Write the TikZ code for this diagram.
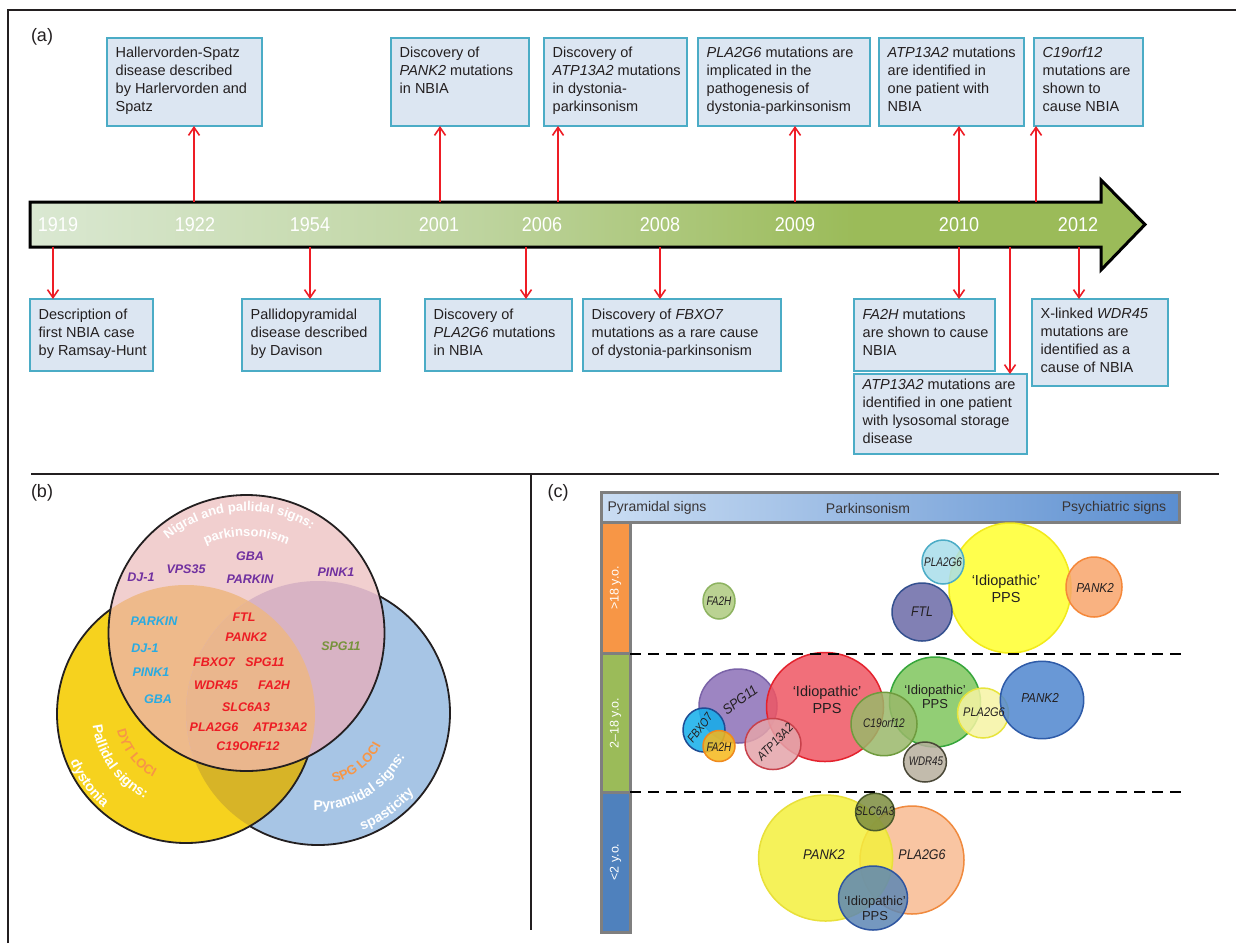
\documentclass[tikz,border=0pt]{standalone}
\usepackage{fontspec}
\setmainfont{Liberation Sans}
\usepackage{graphicx}
\usetikzlibrary{arrows.meta,decorations.text,calc}

\definecolor{boxfill}{HTML}{DCE6F2}
\definecolor{boxline}{HTML}{4BACC6}
\definecolor{arrred}{HTML}{EE1D25}
\definecolor{barA}{HTML}{DAE8D2}
\definecolor{barB}{HTML}{BED49F}
\definecolor{barC}{HTML}{9BBB59}
\definecolor{frm}{HTML}{231F20}
\definecolor{txt}{HTML}{231F20}
\pgfdeclarehorizontalshading{barsh}{100bp}{color(0bp)=(barA); color(25bp)=(barA); color(45bp)=(barB); color(62bp)=(barC); color(100bp)=(barC)}

\definecolor{vB}{HTML}{A7C5E5}
\definecolor{vY}{HTML}{F6D21E}
\definecolor{vYB}{HTML}{D7B427}
\definecolor{vP}{HTML}{F1CFCF}
\definecolor{vPY}{HTML}{EEBA8B}
\definecolor{vPB}{HTML}{D8B3C4}
\definecolor{vPYB}{HTML}{EAB68D}
\definecolor{gPur}{HTML}{7030A0}
\definecolor{gCya}{HTML}{29ABE2}
\definecolor{gRed}{HTML}{ED1C24}
\definecolor{gGrn}{HTML}{77933C}
\definecolor{gOra}{HTML}{F79646}

\definecolor{hdrA}{HTML}{CADDF3}
\definecolor{hdrB}{HTML}{5B8ED0}
\definecolor{grayb}{HTML}{7F7F7F}
\definecolor{ageO}{HTML}{F79646}
\definecolor{ageG}{HTML}{9BBB59}
\definecolor{ageB}{HTML}{4F81BD}

\definecolor{cFAa}{HTML}{AECB80}\definecolor{dFAa}{HTML}{8DB360}
\definecolor{cPLa}{HTML}{A9DDEA}\definecolor{dPLa}{HTML}{4BACC6}
\definecolor{cYel}{HTML}{FFFF2E}\definecolor{dYel}{HTML}{F2EA1A}
\definecolor{cFTL}{HTML}{6C6AA8}\definecolor{dFTL}{HTML}{34508F}
\definecolor{cPKo}{HTML}{F8A56B}\definecolor{dPKo}{HTML}{F5883A}
\definecolor{cSPG}{HTML}{8D70B8}\definecolor{dSPG}{HTML}{7A63A8}
\definecolor{cFBX}{HTML}{12AEEA}\definecolor{dFBX}{HTML}{1E4C94}
\definecolor{cFAb}{HTML}{F6B81A}\definecolor{dFAb}{HTML}{EF8A1E}
\definecolor{cATP}{HTML}{E4A4AA}\definecolor{dATP}{HTML}{C8414B}
\definecolor{cRed}{HTML}{EF5663}\definecolor{dRed}{HTML}{E4222D}
\definecolor{cC19}{HTML}{9AB86A}\definecolor{dC19}{HTML}{6F9B3E}
\definecolor{cGrn}{HTML}{80C65D}\definecolor{dGrn}{HTML}{36A63B}
\definecolor{cPLb}{HTML}{F6F4A4}\definecolor{dPLb}{HTML}{E7E43C}
\definecolor{cPKb}{HTML}{4F86CF}\definecolor{dPKb}{HTML}{2E5BA8}
\definecolor{cWDR}{HTML}{B8B09E}\definecolor{dWDR}{HTML}{4A4838}
\definecolor{cPKy}{HTML}{F4F03E}\definecolor{dPKy}{HTML}{E8E03A}
\definecolor{cPLc}{HTML}{F9BC92}\definecolor{dPLc}{HTML}{F08A3E}
\definecolor{cSLC}{HTML}{7D8E3F}\definecolor{dSLC}{HTML}{4B5A2B}
\definecolor{cIdb}{HTML}{5D87B4}\definecolor{dIdb}{HTML}{2E55A0}

\newcommand\cn[2][0.84]{\scalebox{#1}[1]{#2}}

\newcommand\tlbox[6]{%
  \pgfmathsetmacro\tbw{#4-#2}%
  \pgfmathsetmacro\tbh{#5-#3}%
  \node[tlb, minimum width=\tbw pt, minimum height=\tbh pt, anchor=north west] (#1) at (#2,#3) {};
  \node[tltext, anchor=west] (#1t) at ([xshift=8.5pt]#1.west) {#6};%
}

\begin{document}
\begin{tikzpicture}[x=1pt,y=-1pt,
  framel/.style={draw=frm, line width=2.5pt, line join=miter},
  panlab/.style={font=\fontsize{18}{18}\selectfont, text=txt, inner sep=0pt},
  tlb/.style={rectangle, draw=boxline, fill=boxfill, line width=2.4pt, inner sep=0pt, outer sep=0pt},
  tltext/.style={inner sep=0pt, align=left, text=txt, font=\fontsize{14.5}{18}\selectfont,
     execute at begin node=\strut, execute at end node=\strut},
  rarr/.style={draw=arrred, line width=1.6pt, -{Straight Barb[length=8pt,width=11pt]}},
  yearl/.style={text=white, inner sep=0pt, font=\fontsize{20}{20}\selectfont},
  vline/.style={draw=frm, line width=1.8pt},
  vg/.style={inner sep=0pt, font=\fontsize{12.5}{14}\selectfont\bfseries\itshape},
  curvw/.style={decorate, decoration={text along path, text align=center, text color=white,
     text={|\bfseries\fontsize{14}{14}\selectfont|#1}}},
  curvo/.style={decorate, decoration={text along path, text align=center, text color=gOra,
     text={|\bfseries\fontsize{13}{13}\selectfont|#1}}},
  grayl/.style={draw=grayb, line width=3pt},
  hdrt/.style={inner sep=0pt, text=txt!90, font=\fontsize{14}{14}\selectfont},
  aget/.style={inner sep=0pt, text=white, rotate=90, font=\fontsize{12.5}{12.5}\selectfont},
  bub/.style 2 args={fill=#1, draw=#2, fill opacity=0.85, line width=1.5pt},
  gene/.style={inner sep=0pt, text=txt, font=\fontsize{12.5}{14}\selectfont\itshape},
  idio/.style={inner sep=0pt, text=txt, align=center, font=\fontsize{14.5}{16.5}\selectfont},
  dashl/.style={draw=black, line width=2.5pt, dash pattern=on 11pt off 7pt}
]
\useasboundingbox (0,0) rectangle (1236,943);
\fill[white] (0,0) rectangle (1236,943);

% ---------- frame ----------
\draw[framel] (8,943) -- (8,10) -- (1236,10);
\draw[framel] (31,474) -- (1219,474);
\draw[framel] (531,474) -- (531,930);

\node[panlab] (la) at (42,37) {(a)};
\node[panlab] (lb) at (42,493) {(b)};
\node[panlab] (lc) at (558,493) {(c)};

% ---------- panel (a): timeline ----------
\shadedraw[shading=barsh, draw=black, line width=3pt, line join=miter]
  (30,202) -- (1101,202) -- (1101,180) -- (1145,224.5) -- (1101,270) -- (1101,247) -- (30,247) -- cycle;

\node[yearl] (y1919) at (58,225) {\cn[0.9]{1919}};
\node[yearl] (y1922) at (195,225) {\cn[0.9]{1922}};
\node[yearl] (y1954) at (310,225) {\cn[0.9]{1954}};
\node[yearl] (y2001) at (439,225) {\cn[0.9]{2001}};
\node[yearl] (y2006) at (542,225) {\cn[0.9]{2006}};
\node[yearl] (y2008) at (660,225) {\cn[0.9]{2008}};
\node[yearl] (y2009) at (795,225) {\cn[0.9]{2009}};
\node[yearl] (y2010) at (959,225) {\cn[0.9]{2010}};
\node[yearl] (y2012) at (1078,225) {\cn[0.9]{2012}};

% top boxes
\tlbox{B1}{107}{38}{262}{126}{Hallervorden-Spatz\\disease described\\by Harlervorden and\\Spatz}
\tlbox{B2}{391}{38}{529}{126}{Discovery of\\\textit{PANK2} mutations\\in NBIA\\\mbox{}}
\tlbox{B3}{544}{38}{687}{126}{Discovery of\\\textit{ATP13A2} mutations\\in dystonia-\\parkinsonism}
\tlbox{B4}{698}{38}{870}{126}{\textit{PLA2G6} mutations are\\implicated in the\\pathogenesis of\\dystonia-parkinsonism}
\tlbox{B5}{879}{38}{1024}{126}{\textit{ATP13A2} mutations\\are identified in\\one patient with\\NBIA}
\tlbox{B6}{1034}{38}{1143}{126}{\textit{C19orf12}\\mutations are\\shown to\\cause NBIA}

% bottom boxes
\tlbox{C1}{30}{299}{153}{371}{Description of\\first NBIA case\\by Ramsay-Hunt}
\tlbox{C2}{242}{299}{380}{371}{Pallidopyramidal\\disease described\\by Davison}
\tlbox{C3}{425}{299}{572}{371}{Discovery of\\\textit{PLA2G6} mutations\\in NBIA}
\tlbox{C4}{583}{299}{781}{371}{Discovery of \textit{FBXO7}\\mutations as a rare cause\\of dystonia-parkinsonism}
\tlbox{C5}{854}{299}{995}{371}{\textit{FA2H} mutations\\are shown to cause\\NBIA}
\tlbox{C6}{854}{374}{1027}{454}{\textit{ATP13A2} mutations are\\identified in one patient\\with lysosomal storage\\disease}
\tlbox{C7}{1032}{299}{1168}{386}{X-linked \textit{WDR45}\\mutations are\\identified as a\\cause of NBIA}

% connectors up
\coordinate (u1) at (194,202);
\coordinate (u2) at (440,202);
\coordinate (u3) at (558,202);
\coordinate (u4) at (795,202);
\coordinate (u5) at (959,202);
\coordinate (u6) at (1036,202);
\draw[rarr] (u1) -- (u1 |- B1.south);
\draw[rarr] (u2) -- (u2 |- B2.south);
\draw[rarr] (u3) -- (u3 |- B3.south);
\draw[rarr] (u4) -- (u4 |- B4.south);
\draw[rarr] (u5) -- (u5 |- B5.south);
\draw[rarr] (u6) -- (u6 |- B6.south);
% connectors down
\coordinate (d1) at (53,247);
\coordinate (d2) at (310,247);
\coordinate (d3) at (526,247);
\coordinate (d4) at (660,247);
\coordinate (d5) at (959,247);
\coordinate (d6) at (1010,247);
\coordinate (d7) at (1079,247);
\draw[rarr] (d1) -- (d1 |- C1.north);
\draw[rarr] (d2) -- (d2 |- C2.north);
\draw[rarr] (d3) -- (d3 |- C3.north);
\draw[rarr] (d4) -- (d4 |- C4.north);
\draw[rarr] (d5) -- (d5 |- C5.north);
\draw[rarr] (d6) -- (d6 |- C6.north);
\draw[rarr] (d7) -- (d7 |- C7.north);

% ---------- panel (b): Venn ----------
\coordinate (pc) at (246.5,633);
\coordinate (yc) at (186,714);
\coordinate (bc) at (318,713);
\def\rP{138pt}\def\rY{129pt}\def\rB{132pt}
\fill[vB] (bc) circle[radius=\rB];
\draw[vline] (bc) circle[radius=\rB];
\fill[vY] (yc) circle[radius=\rY];
\begin{scope}
  \clip (bc) circle[radius=\rB];
  \fill[vYB] (yc) circle[radius=\rY];
\end{scope}
\draw[vline] (yc) circle[radius=\rY];
\fill[vP] (pc) circle[radius=\rP];
\begin{scope}
  \clip (pc) circle[radius=\rP];
  \fill[vPY] (yc) circle[radius=\rY];
  \fill[vPB] (bc) circle[radius=\rB];
  \clip (yc) circle[radius=\rY];
  \fill[vPYB] (bc) circle[radius=\rB];
\end{scope}
\draw[vline] (pc) circle[radius=\rP];

\path[decorate, decoration={text along path, text align=center, text color=white,
   text={|\bfseries\fontsize{13}{13}\selectfont|Nigral and pallidal signs:}}]
   ($(pc)+(144:122pt)$) arc[start angle=144, end angle=44, radius=122pt];
\path[decorate, decoration={text along path, text align=center, text color=white,
   text={|\bfseries\fontsize{13}{13}\selectfont|parkinsonism}}]
   ($(pc)+(125:97pt)$) arc[start angle=125, end angle=55, radius=97pt];

\node[vg, text=gPur] (p1) at (141,577) {DJ-1};
\node[vg, text=gPur] (p2) at (186,569) {VPS35};
\node[vg, text=gPur] (p3) at (250,556) {GBA};
\node[vg, text=gPur] (p4) at (250,579) {PARKIN};
\node[vg, text=gPur] (p5) at (336,572) {PINK1};

\node[vg, text=gCya] (c1) at (154,621) {PARKIN};
\node[vg, text=gCya] (c2) at (145,648) {DJ-1};
\node[vg, text=gCya] (c3) at (151,672) {PINK1};
\node[vg, text=gCya] (c4) at (158,699) {GBA};

\node[vg, text=gRed] (r1) at (244,617) {FTL};
\node[vg, text=gRed] (r2) at (246,637) {PANK2};
\node[vg, text=gRed] (r3) at (214,662) {FBXO7};
\node[vg, text=gRed] (r4) at (265,662) {SPG11};
\node[vg, text=gRed] (r5) at (216,685) {WDR45};
\node[vg, text=gRed] (r6) at (274,685) {FA2H};
\node[vg, text=gRed] (r7) at (246,707) {SLC6A3};
\node[vg, text=gRed] (r8) at (214,727) {PLA2G6};
\node[vg, text=gRed] (r9) at (280,727) {ATP13A2};
\node[vg, text=gRed] (r10) at (248,746) {C19ORF12};

\node[vg, text=gGrn] (g1) at (341,646) {SPG11};

% curved labels round the yellow and blue circles
\path[curvo={DYT LOCI}] ($(yc)+(190:71pt)$) arc[start angle=190, end angle=246, radius=71pt];
\path[curvw={Pallidal signs:}] ($(yc)+(181:94pt)$) arc[start angle=181, end angle=250, radius=94pt];
\path[curvw={dystonia}] ($(yc)+(196:125pt)$) arc[start angle=196, end angle=235, radius=125pt];
\path[curvo={SPG LOCI}] ($(bc)+(278:71pt)$) arc[start angle=278, end angle=337, radius=71pt];
\path[curvw={Pyramidal signs:}] ($(bc)+(262:97pt)$) arc[start angle=262, end angle=339, radius=97pt];
\path[curvw={spasticity}] ($(bc)+(287:125pt)$) arc[start angle=287, end angle=324, radius=125pt];

% ---------- panel (c) ----------
\shade[left color=hdrA, right color=hdrB] (601,492) rectangle (1179,522);
\fill[ageO] (601,522) rectangle (630,653);
\fill[ageG] (601,653) rectangle (630,792);
\fill[ageB] (601,792) rectangle (630,932);
\draw[grayl] (601,492) rectangle (1179,522);
\draw[grayl] (601,522) rectangle (630,932);
\draw[grayl] (601,653) -- (630,653);
\draw[grayl] (601,792) -- (630,792);

\node[hdrt] (h1) at (657,508) {Pyramidal signs};
\node[hdrt] (h2) at (868,508) {Parkinsonism};
\node[hdrt] (h3) at (1114,508) {Psychiatric signs};

\node[aget] (a1) at (615.5,588) {>18 y.o.};
\node[aget] (a2) at (615.5,723) {2–18 y.o.};
\node[aget] (a3) at (615.5,862) {<2 y.o.};

% row >18
\draw[bub={cYel}{dYel}] (1010,588) ellipse[x radius=61pt, y radius=65pt];
\draw[bub={cPKo}{dPKo}] (1094,587) ellipse[x radius=28pt, y radius=30pt];
\draw[bub={cPLa}{dPLa}] (943,562) ellipse[x radius=21pt, y radius=22pt];
\draw[bub={cFTL}{dFTL}] (922,612) ellipse[x radius=30pt, y radius=29pt];
\draw[bub={cFAa}{dFAa}] (719,601) ellipse[x radius=16pt, y radius=18pt];

% row 2-18
\draw[bub={cSPG}{dSPG}] (738,706) ellipse[x radius=39pt, y radius=37pt];
\draw[bub={cRed}{dRed}] (825,707) ellipse[x radius=58.5pt, y radius=54.5pt];
\draw[bub={cFBX}{dFBX}] (704,730) ellipse[x radius=21pt, y radius=22pt];
\draw[bub={cFAb}{dFAb}] (719,746) ellipse[x radius=16pt, y radius=15.5pt];
\draw[bub={cATP}{dATP}] (773,744) ellipse[x radius=28pt, y radius=25.5pt];
\draw[bub={cGrn}{dGrn}] (935,702) ellipse[x radius=45.5pt, y radius=45pt];
\draw[bub={cC19}{dC19}] (884,724) ellipse[x radius=33pt, y radius=31.7pt];
\draw[bub={cPLb}{dPLb}] (983,713) ellipse[x radius=25.5pt, y radius=25pt];
\draw[bub={cPKb}{dPKb}] (1042,700) ellipse[x radius=41.7pt, y radius=38.7pt];
\draw[bub={cWDR}{dWDR}] (925,762) ellipse[x radius=21.4pt, y radius=20pt];

% row <2
\draw[bub={cPLc}{dPLc}] (912,860) ellipse[x radius=52pt, y radius=54pt];
\draw[bub={cPKy}{dPKy}] (825.6,858) ellipse[x radius=67pt, y radius=63pt];
\draw[bub={cSLC}{dSLC}] (875,812) ellipse[x radius=19.4pt, y radius=18.7pt];
\draw[bub={cIdb}{dIdb}] (873,898) ellipse[x radius=34.5pt, y radius=32pt];

\draw[dashl] (630,654) -- (1185,654);
\draw[dashl] (630,792) -- (1185,792);

% bubble labels
\node[gene] (t1) at (719,601) {\cn[0.8]{FA2H}};
\node[gene] (t2) at (943,562) {\cn[0.8]{PLA2G6}};
\node[idio] (t3) at (1006,589) {‘Idiopathic’\\PPS};
\node[gene, font=\fontsize{14}{14}\selectfont\itshape] (t4) at (922,612) {\cn[0.87]{FTL}};
\node[gene, font=\fontsize{13}{14}\selectfont\itshape] (t5) at (1095,588) {\cn[0.9]{PANK2}};

\node[gene, font=\fontsize{14}{14}\selectfont\itshape, rotate=37] (t6) at (740,700) {\cn[0.9]{SPG11}};
\node[gene, font=\fontsize{12}{14}\selectfont\itshape, rotate=53] (t7) at (700,728) {\cn[0.85]{FBXO7}};
\node[gene] (t8) at (719,747) {\cn[0.8]{FA2H}};
\node[gene, rotate=46] (t9) at (775,742) {\cn[0.87]{ATP13A2}};
\node[idio] (t10) at (827,700) {‘Idiopathic’\\PPS};
\node[gene] (t11) at (884,723) {\cn[0.81]{C19orf12}};
\node[idio, font=\fontsize{13}{14}\selectfont] (t12) at (935,697) {‘Idiopathic’\\PPS};
\node[gene] (t13) at (984,712) {\cn[0.88]{PLA2G6}};
\node[gene, font=\fontsize{13}{14}\selectfont\itshape] (t14) at (1040,698) {\cn[0.9]{PANK2}};
\node[gene] (t15) at (926,761) {\cn[0.78]{WDR45}};

\node[gene, font=\fontsize{14}{14}\selectfont\itshape] (t16) at (824,855) {\cn[0.93]{PANK2}};
\node[gene, font=\fontsize{14}{14}\selectfont\itshape] (t17) at (922,855) {\cn[0.89]{PLA2G6}};
\node[gene] (t18) at (875,811) {\cn[0.83]{SLC6A3}};
\node[idio, font=\fontsize{13}{14.5}\selectfont] (t19) at (875,908.5) {‘Idiopathic’\\PPS};

\end{tikzpicture}
\end{document}
